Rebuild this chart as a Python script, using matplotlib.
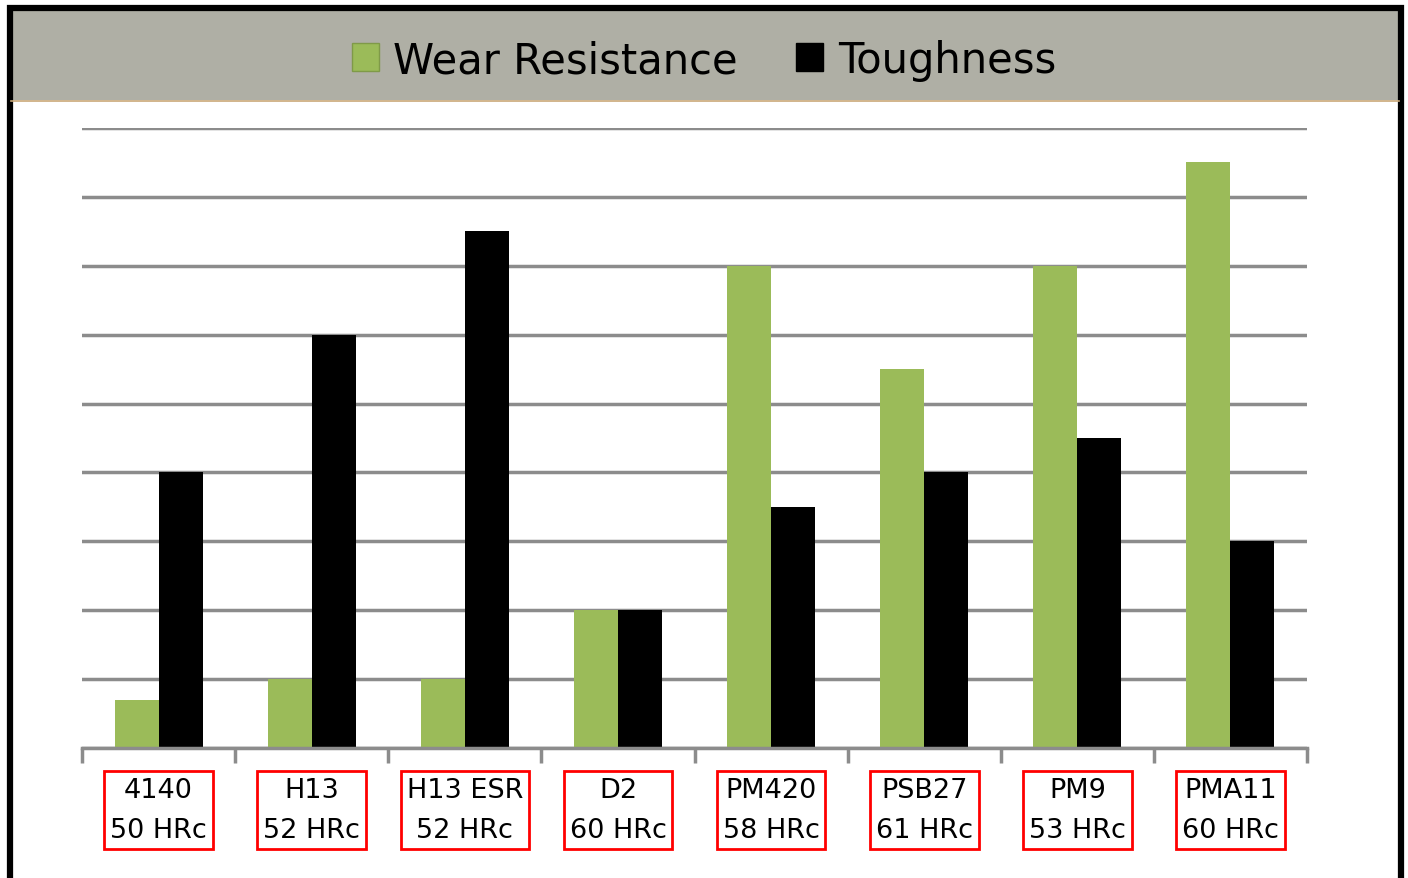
import matplotlib.pyplot as plt
import numpy as np
from matplotlib.patches import Rectangle, Patch

steels = ["4140", "H13", "H13 ESR", "D2", "PM420", "PSB27", "PM9", "PMA11"]
hardness = ["50 HRc", "52 HRc", "52 HRc", "60 HRc", "58 HRc", "61 HRc", "53 HRc", "60 HRc"]
wear = [0.7, 1, 1, 2, 7, 5.5, 7, 8.5]
tough = [4, 6, 7.5, 2, 3.5, 4, 4.5, 3]

green = "#9BBB59"
W, H = 1408, 879

fig = plt.figure(figsize=(W / 100, H / 100), dpi=100)
fig.patch.set_facecolor("white")

# frame (bottom edge falls outside the picture) and header band
fig.patches.append(Rectangle((9.5 / W, -0.05), (1401 - 9.5) / W, 1.05 - 9 / H, transform=fig.transFigure,
                             facecolor="none", edgecolor="black", linewidth=4.5, zorder=-2))
fig.patches.append(Rectangle((11 / W, 1 - 101 / H), (1399 - 11) / W, (101 - 11) / H,
                             transform=fig.transFigure, facecolor="#AFAFA5", edgecolor="none", zorder=-3))
fig.lines.append(plt.Line2D([11 / W, 1399 / W], [1 - 101.5 / H] * 2, transform=fig.transFigure,
                            color="#C9A878", linewidth=1.2, zorder=-1))

ax = fig.add_axes([82 / W, 1 - 749 / H, (1307 - 82) / W, (749 - 129) / H])
ax.set_zorder(5)
x = np.arange(len(steels))
bw = 0.287
ax.bar(x - bw / 2, wear, bw, color=green, zorder=3)
ax.bar(x + bw / 2, tough, bw, color="black", zorder=3)

ax.set_xlim(-0.5, len(steels) - 0.5)
ax.set_ylim(0, 9)
ax.set_yticks(np.arange(0, 10))
ax.yaxis.grid(True, color="#8C8C8C", linewidth=2.5, zorder=1)
ax.set_axisbelow(True)
ax.tick_params(axis="y", left=False, labelleft=False)
for s in ["top", "right", "left"]:
    ax.spines[s].set_visible(False)
ax.spines["bottom"].set_color("#8C8C8C")
ax.spines["bottom"].set_linewidth(2.5)
ax.spines["bottom"].set_zorder(4)
ax.set_xticks(np.arange(-0.5, len(steels), 1))
ax.set_xticklabels([])
ax.tick_params(axis="x", length=11, width=2.5, color="#8C8C8C")
ax.patch.set_alpha(0)

# label top sits ~29 px below the baseline
label_y = -29 / (620 / 9)
for i, (s, h) in enumerate(zip(steels, hardness)):
    ax.text(i, label_y, s + "\n" + h, ha="center", va="top", fontsize=19.5, linespacing=1.7,
            bbox=dict(boxstyle="square,pad=0.22", facecolor="none", edgecolor="red", linewidth=2),
            clip_on=False)

handles = [Patch(facecolor=green, edgecolor="#7F9A48", label="Wear Resistance"),
           Patch(facecolor="black", edgecolor="black", label="Toughness")]
fig.legend(handles=handles, loc="center", bbox_to_anchor=(0.5, 1 - 61 / H), ncol=2,
           frameon=False, fontsize=30, handlelength=0.65, handleheight=0.65,
           handletextpad=0.35, columnspacing=1.4)

fig.savefig("out.png", dpi=100)
